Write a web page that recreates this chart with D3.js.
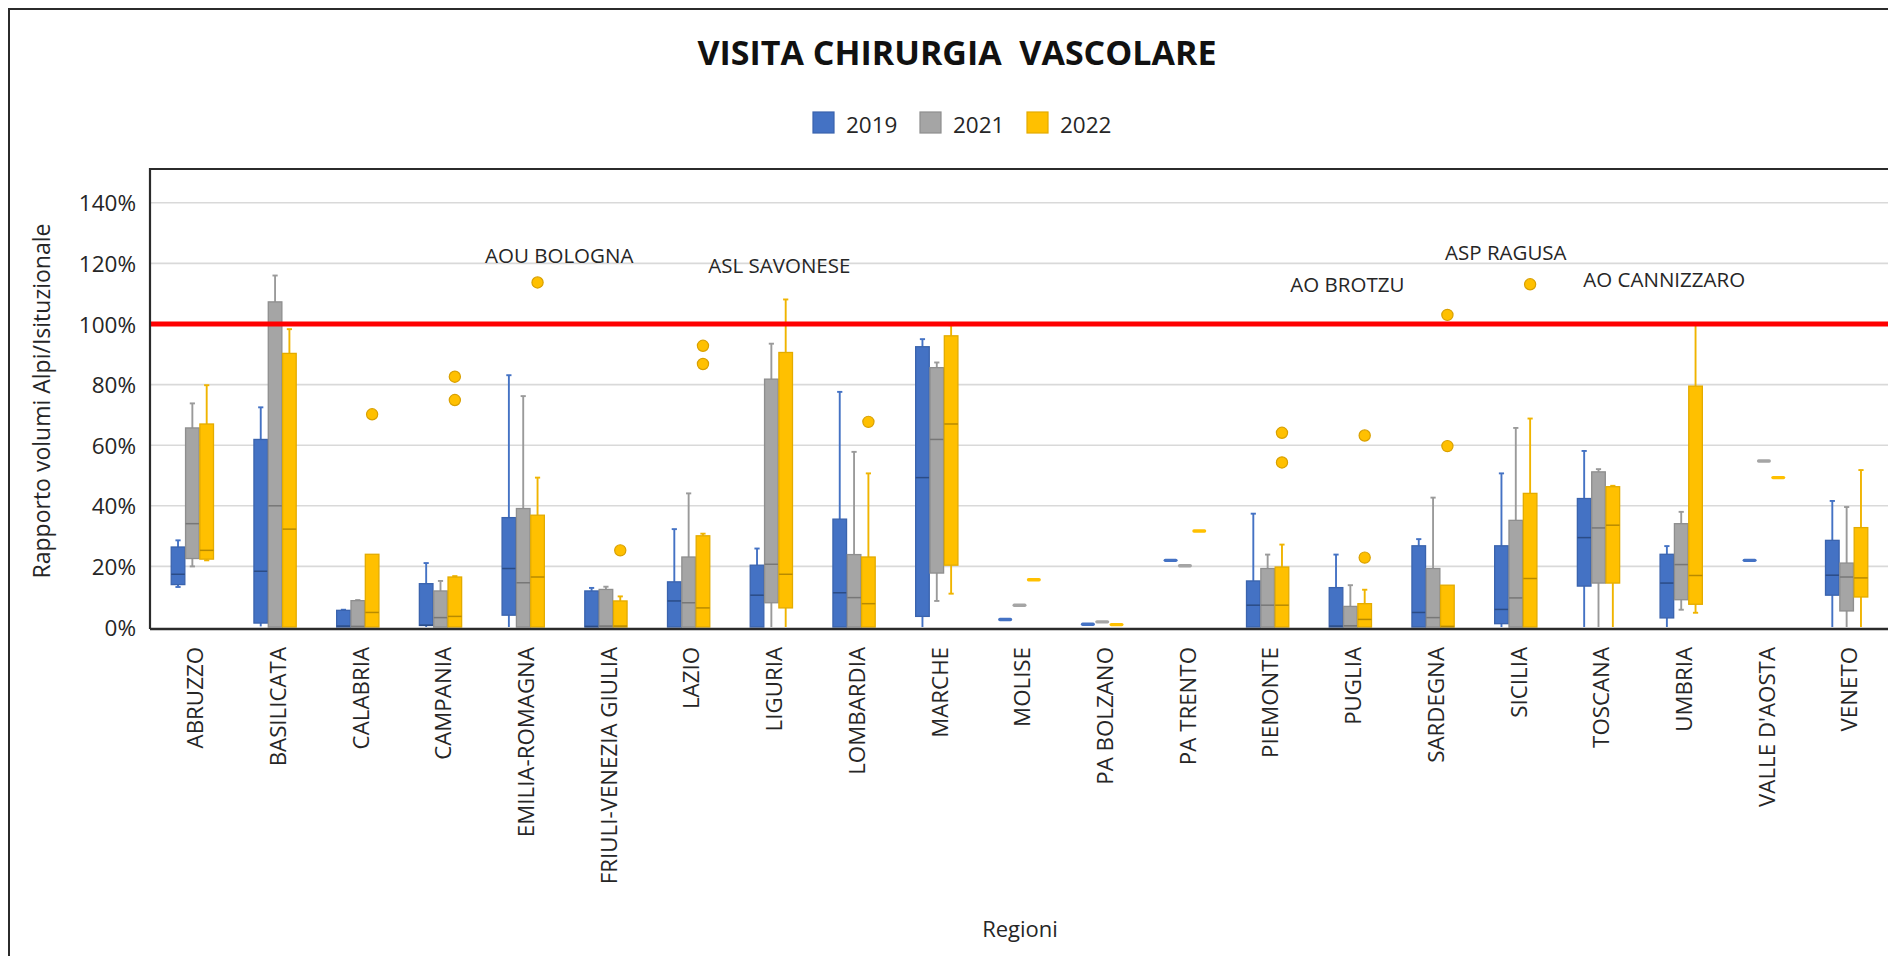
<!DOCTYPE html>
<html>
<head>
<meta charset="utf-8">
<script src="https://cdn.jsdelivr.net/npm/d3@7"></script>
<style>
  html, body { margin: 0; padding: 0; background: #ffffff; overflow: hidden; }
  svg { display: block; font-family: "Open Sans", "Noto Sans", sans-serif; }
</style>
</head>
<body>
<svg id="chart" width="1888" height="956"></svg>
<script>
// ---- data -------------------------------------------------------------
const regions = [
  "ABRUZZO", "BASILICATA", "CALABRIA", "CAMPANIA", "EMILIA-ROMAGNA",
  "FRIULI-VENEZIA GIULIA", "LAZIO", "LIGURIA", "LOMBARDIA", "MARCHE",
  "MOLISE", "PA BOLZANO", "PA TRENTO", "PIEMONTE", "PUGLIA", "SARDEGNA",
  "SICILIA", "TOSCANA", "UMBRIA", "VALLE D'AOSTA", "VENETO"
];

const years = ["2019", "2021", "2022"];

// each entry: [lower whisker, Q1, median, Q3, upper whisker]
const stats2019 = [
  [0.132, 0.140, 0.174, 0.264, 0.286],
  [0.002, 0.013, 0.184, 0.619, 0.725],
  [0.000, 0.000, 0.003, 0.055, 0.057],
  [0.000, 0.005, 0.006, 0.143, 0.211],
  [0.000, 0.039, 0.193, 0.361, 0.831],
  [0.000, 0.000, 0.002, 0.119, 0.129],
  [0.000, 0.000, 0.086, 0.149, 0.323],
  [0.000, 0.000, 0.105, 0.204, 0.259],
  [0.000, 0.000, 0.113, 0.356, 0.776],
  [0.000, 0.035, 0.493, 0.925, 0.950],
  [0.025, 0.025, 0.025, 0.025, 0.025],
  [0.009, 0.009, 0.009, 0.009, 0.009],
  [0.220, 0.220, 0.220, 0.220, 0.220],
  [0.000, 0.000, 0.072, 0.152, 0.374],
  [0.000, 0.000, 0.003, 0.130, 0.239],
  [0.000, 0.000, 0.048, 0.268, 0.290],
  [0.000, 0.011, 0.058, 0.268, 0.507],
  [0.000, 0.135, 0.295, 0.424, 0.581],
  [0.000, 0.030, 0.145, 0.240, 0.267],
  [0.220, 0.220, 0.220, 0.220, 0.220],
  [0.000, 0.105, 0.171, 0.286, 0.416]
];

const stats2021 = [
  [0.200, 0.226, 0.341, 0.657, 0.738],
  [0.000, 0.000, 0.400, 1.073, 1.160],
  [0.000, 0.000, 0.002, 0.087, 0.089],
  [0.000, 0.000, 0.031, 0.119, 0.152],
  [0.000, 0.000, 0.146, 0.391, 0.762],
  [0.000, 0.000, 0.003, 0.124, 0.133],
  [0.000, 0.000, 0.080, 0.231, 0.441],
  [0.000, 0.080, 0.207, 0.818, 0.935],
  [0.000, 0.000, 0.097, 0.239, 0.578],
  [0.086, 0.178, 0.619, 0.856, 0.873],
  [0.072, 0.072, 0.072, 0.072, 0.072],
  [0.017, 0.017, 0.017, 0.017, 0.017],
  [0.202, 0.202, 0.202, 0.202, 0.202],
  [0.000, 0.000, 0.072, 0.193, 0.239],
  [0.000, 0.000, 0.004, 0.068, 0.138],
  [0.000, 0.000, 0.031, 0.193, 0.427],
  [0.000, 0.000, 0.096, 0.352, 0.657],
  [0.000, 0.145, 0.327, 0.512, 0.521],
  [0.057, 0.090, 0.206, 0.341, 0.380],
  [0.548, 0.548, 0.548, 0.548, 0.548],
  [0.000, 0.053, 0.165, 0.211, 0.396]
];

const stats2022 = [
  [0.220, 0.224, 0.253, 0.670, 0.798],
  [0.000, 0.000, 0.323, 0.903, 0.983],
  [0.000, 0.000, 0.048, 0.240, 0.240],
  [0.000, 0.000, 0.035, 0.165, 0.168],
  [0.000, 0.000, 0.165, 0.369, 0.493],
  [0.000, 0.000, 0.003, 0.086, 0.101],
  [0.000, 0.000, 0.063, 0.301, 0.308],
  [0.000, 0.063, 0.174, 0.906, 1.081],
  [0.000, 0.000, 0.077, 0.231, 0.507],
  [0.110, 0.204, 0.670, 0.961, 0.996],
  [0.156, 0.156, 0.156, 0.156, 0.156],
  [0.008, 0.008, 0.008, 0.008, 0.008],
  [0.317, 0.317, 0.317, 0.317, 0.317],
  [0.000, 0.000, 0.072, 0.198, 0.272],
  [0.000, 0.000, 0.025, 0.077, 0.123],
  [0.000, 0.000, 0.002, 0.138, 0.138],
  [0.000, 0.000, 0.160, 0.441, 0.688],
  [0.000, 0.145, 0.336, 0.463, 0.466],
  [0.047, 0.075, 0.170, 0.795, 0.997],
  [0.493, 0.493, 0.493, 0.493, 0.493],
  [0.000, 0.099, 0.162, 0.328, 0.518]
];

// outlying structures, 2022
const outlierRegions2022 = ["CALABRIA", "CAMPANIA", "CAMPANIA", "EMILIA-ROMAGNA", "FRIULI-VENEZIA GIULIA",
  "LAZIO", "LAZIO", "LOMBARDIA", "PIEMONTE", "PIEMONTE", "PUGLIA", "PUGLIA",
  "SARDEGNA", "SARDEGNA", "SICILIA"];
const outlierValues2022 = [0.702, 0.826, 0.749, 1.137, 0.253,
  0.928, 0.868, 0.677, 0.641, 0.543, 0.632, 0.229,
  1.030, 0.597, 1.131];

// named facilities written above the plot
const noteLabels = ["AOU BOLOGNA", "ASL SAVONESE", "AO BROTZU", "ASP RAGUSA", "AO CANNIZZARO"];
const noteRegions = ["EMILIA-ROMAGNA", "LIGURIA", "PUGLIA", "SICILIA", "UMBRIA"];
const noteLevels = [1.201, 1.168, 1.106, 1.211, 1.122];

const yTicks = [0, 0.2, 0.4, 0.6, 0.8, 1.0, 1.2, 1.4];
const threshold = 1.0;

const chartTitle = "VISITA CHIRURGIA\u00A0 VASCOLARE";
const yTitle = "Rapporto volumi Alpi/Isituzionale";
const xTitle = "Regioni";

// ---- styling ----------------------------------------------------------
const fills   = { "2019": "#4472C4", "2021": "#A5A5A5", "2022": "#FFC000" };
const borders = { "2019": "#3A63AD", "2021": "#8E8E8E", "2022": "#E3AB00" };
const medians = { "2019": "#2B4C86", "2021": "#777777", "2022": "#B88A00" };
const whiskers = { "2019": "#4472C4", "2021": "#9A9A9A", "2022": "#F0B400" };

const statsByYear = { "2019": stats2019, "2021": stats2021, "2022": stats2022 };

// ---- layout -----------------------------------------------------------
const W = 1888, H = 956;
const plot = { left: 150, top: 169, right: 1892, bottom: 629 };

const svg = d3.select("#chart");

const x = d3.scaleBand().domain(regions).range([151, 1888]).paddingInner(0).paddingOuter(0);
const xSub = d3.scaleBand().domain(years).range([-21.5, 21.5]).padding(0);
const y = d3.scaleLinear().domain([0, 1.5]).range([627, 172.5]);

const textColor = "#262626";

// outer frame
svg.append("rect")
  .attr("x", 9).attr("y", 9)
  .attr("width", W + 20).attr("height", H + 20)
  .attr("fill", "none").attr("stroke", "#2b2b2b").attr("stroke-width", 2);

// title
svg.append("text")
  .attr("x", 957).attr("y", 65)
  .attr("text-anchor", "middle")
  .attr("font-size", 34).attr("font-weight", 700)
  .attr("fill", "#111")
  .text(chartTitle);

// legend
const legend = svg.append("g").attr("transform", "translate(813,112)");
years.forEach((yr, i) => {
  const g = legend.append("g").attr("transform", `translate(${i * 107},0)`);
  g.append("rect").attr("x", 0).attr("y", 0).attr("width", 21).attr("height", 21)
    .attr("fill", fills[yr]).attr("stroke", borders[yr]).attr("stroke-width", 1.2);
  g.append("text").attr("x", 33).attr("y", 20.5)
    .attr("font-size", 22.5).attr("fill", textColor).text(yr);
});

// gridlines
const grid = svg.append("g");
grid.selectAll("line")
  .data(yTicks.filter(t => t > 0))
  .join("line")
  .attr("x1", plot.left).attr("x2", plot.right)
  .attr("y1", d => y(d)).attr("y2", d => y(d))
  .attr("stroke", "#D9D9D9").attr("stroke-width", 1.6);

// y axis tick labels
const yAxis = d3.axisLeft(y).tickValues(yTicks).tickFormat(d3.format(".0%")).tickSize(0).tickPadding(0);
const yAxisG = svg.append("g").attr("transform", "translate(136,0)").call(yAxis);
yAxisG.select(".domain").remove();
yAxisG.selectAll("text")
  .attr("font-family", "\"Open Sans\", sans-serif")
  .attr("font-size", 22.5).attr("fill", textColor)
  .attr("dy", "0.36em");

// boxes
const boxW = 13.6;
const marks = svg.append("g");
regions.forEach((r, ri) => {
  const cx0 = x(r) + x.bandwidth() / 2;
  years.forEach(yr => {
    const [lo, q1, med, q3, hi] = statsByYear[yr][ri];
    const cx = cx0 + xSub(yr) + xSub.bandwidth() / 2;
    const g = marks.append("g");
    if (q3 - q1 < 1e-6 && hi - lo < 1e-6) {
      // a single structure: short dash at its value
      g.append("line")
        .attr("x1", cx - boxW / 2 + 1.5).attr("x2", cx + boxW / 2 - 1.5)
        .attr("y1", y(med)).attr("y2", y(med))
        .attr("stroke", fills[yr]).attr("stroke-width", 3.4)
        .attr("stroke-linecap", "round");
      return;
    }
    // whiskers
    const wl = (a, b) => g.append("line")
      .attr("x1", cx).attr("x2", cx).attr("y1", y(a)).attr("y2", y(b))
      .attr("stroke", whiskers[yr]).attr("stroke-width", 1.9);
    const cap = v => g.append("line")
      .attr("x1", cx - 2.6).attr("x2", cx + 2.6).attr("y1", y(v)).attr("y2", y(v))
      .attr("stroke", whiskers[yr]).attr("stroke-width", 1.9);
    if (hi > q3) { wl(q3, hi); cap(hi); }
    if (q1 > lo) { wl(lo, q1); if (lo > 0.004) cap(lo); }
    // box
    g.append("rect")
      .attr("x", cx - boxW / 2).attr("width", boxW)
      .attr("y", y(q3)).attr("height", Math.max(0, y(q1) - y(q3)))
      .attr("fill", fills[yr]).attr("stroke", borders[yr]).attr("stroke-width", 1.3);
    // median
    g.append("line")
      .attr("x1", cx - boxW / 2).attr("x2", cx + boxW / 2)
      .attr("y1", y(med)).attr("y2", y(med))
      .attr("stroke", medians[yr]).attr("stroke-width", 1.5);
  });
});

// outliers (2022)
svg.append("g").selectAll("circle")
  .data(outlierValues2022.map((v, i) => ({ region: outlierRegions2022[i], value: v })))
  .join("circle")
  .attr("cx", d => x(d.region) + x.bandwidth() / 2 + xSub("2022") + xSub.bandwidth() / 2)
  .attr("cy", d => y(d.value))
  .attr("r", 5.6)
  .attr("fill", "#FFC000").attr("stroke", "#D9A000").attr("stroke-width", 1.2);

// 100% reference line
svg.append("line")
  .attr("x1", plot.left + 1).attr("x2", plot.right)
  .attr("y1", y(threshold)).attr("y2", y(threshold))
  .attr("stroke", "#FF0000").attr("stroke-width", 5);

// facility labels
const noteOffsets = [36, 8, -3, -10, -17];
svg.append("g").selectAll("text")
  .data(noteLabels.map((t, i) => ({ t, r: noteRegions[i], v: noteLevels[i], dx: noteOffsets[i] })))
  .join("text")
  .attr("x", d => x(d.r) + x.bandwidth() / 2 + d.dx)
  .attr("y", d => y(d.v))
  .attr("text-anchor", "middle")
  .attr("font-size", 20.5).attr("fill", textColor)
  .text(d => d.t);

// plot border (left, top) and category axis line
svg.append("path")
  .attr("d", `M${plot.right},${plot.top}H${plot.left}V${plot.bottom}`)
  .attr("fill", "none").attr("stroke", "#2b2b2b").attr("stroke-width", 2.2);
svg.append("line")
  .attr("x1", plot.left).attr("x2", plot.right)
  .attr("y1", plot.bottom).attr("y2", plot.bottom)
  .attr("stroke", "#2b2b2b").attr("stroke-width", 2.6);

// category labels, rotated
const xAxis = d3.axisBottom(x).tickSize(0).tickPadding(0);
const xAxisG = svg.append("g").attr("transform", "translate(0,647)").call(xAxis);
xAxisG.select(".domain").remove();
xAxisG.selectAll("text")
  .attr("font-family", "\"Open Sans\", sans-serif")
  .attr("font-size", 22.3).attr("fill", textColor)
  .attr("text-anchor", "end")
  .attr("transform", "rotate(-90)")
  .attr("x", 0).attr("y", 0)
  .attr("dy", "0.48em");

// axis titles
svg.append("text")
  .attr("transform", "translate(42,401) rotate(-90)")
  .attr("text-anchor", "middle").attr("dy", "0.36em")
  .attr("font-size", 23).attr("fill", textColor)
  .text(yTitle);

svg.append("text")
  .attr("x", 1020).attr("y", 937)
  .attr("text-anchor", "middle")
  .attr("font-size", 22).attr("fill", textColor)
  .text(xTitle);
</script>
</body>
</html>
